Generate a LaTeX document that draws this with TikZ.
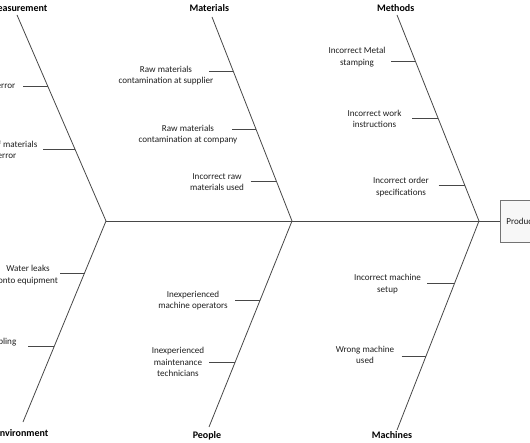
\documentclass[tikz,border=0pt]{standalone}
\usepackage{fontspec}
\setmainfont{Carlito}
\begin{document}
\begin{tikzpicture}[x=1pt,y=-1pt,
  bone/.style={draw=black!72, line width=0.8pt},
  twig/.style={draw=black!72, line width=0.8pt},
  cause/.style={font=\fontsize{9.1}{11.3}\selectfont, align=center, inner sep=0pt, text=black!88},
  cat/.style={font=\fontsize{10}{12}\selectfont\bfseries, inner sep=0pt, text=black},
  effectbox/.style={draw=black!55, fill=gray!6, line width=0.8pt, minimum height=42pt,
    anchor=west, inner xsep=6pt, font=\fontsize{9.1}{11.3}\selectfont, text=black!88}
]
\useasboundingbox (0,0) rectangle (530,443);
\clip (0,0) rectangle (530,443);

% effect box
\node[effectbox] (effect) at (500,221) {Product defects};

% main bone coordinates
\coordinate (meaT) at (17,15);   \coordinate (meaB) at (106,221);
\coordinate (matT) at (212,17);  \coordinate (matB) at (292,221);
\coordinate (metT) at (397,15);  \coordinate (metB) at (479,221);
\coordinate (envB) at (23,422);
\coordinate (peoB) at (209,427);
\coordinate (macB) at (397,430);

% spine and bones
\draw[bone] (meaB) -- (meaB -| effect.west);
\draw[bone] (meaT) -- (meaB);
\draw[bone] (matT) -- (matB);
\draw[bone] (metT) -- (metB);
\draw[bone] (meaB) -- (envB);
\draw[bone] (matB) -- (peoB);
\draw[bone] (metB) -- (macB);

% category titles
\node[cat, anchor=east] (tmea) at (47.5,8) {Measurement};
\node[cat] (tmat) at (209.3,8) {Materials};
\node[cat] (tmet) at (395.7,8) {Methods};
\node[cat, anchor=east] (tenv) at (48.5,433.5) {Environment};
\node[cat] (tpeo) at (207,435.5) {People};
\node[cat] (tmac) at (392,435.5) {Machines};

% Measurement causes
\node[cause, anchor=east] (c11) at (15.5,86.7) {Gauge error};
\coordinate (c11s) at (23,86.7); \coordinate (c11e) at (48.1,86.7);
\draw[twig] (c11s) -- (c11e);
\node[cause] (c12) at (7,150) {Test of materials\\error};
\coordinate (c12s) at (43,149); \coordinate (c12e) at (75,149);
\draw[twig] (c12s) -- (c12e);

% Materials causes
\node[cause] (c21) at (166,75.6) {Raw materials\\contamination at supplier};
\coordinate (c21s) at (209,71); \coordinate (c21e) at (233.3,71);
\draw[twig] (c21s) -- (c21e);
\node[cause] (c22) at (188,134.3) {Raw materials\\contamination at company};
\coordinate (c22s) at (232,129); \coordinate (c22e) at (256.1,129);
\draw[twig] (c22s) -- (c22e);
\node[cause] (c23) at (217,182) {Incorrect raw\\materials used};
\coordinate (c23s) at (250.5,181.7); \coordinate (c23e) at (276.9,181.7);
\draw[twig] (c23s) -- (c23e);

% Methods causes
\node[cause] (c31) at (357,57) {Incorrect Metal\\stamping};
\coordinate (c31s) at (391,61); \coordinate (c31e) at (415.4,61);
\draw[twig] (c31s) -- (c31e);
\node[cause] (c32) at (374.5,119) {Incorrect work\\instructions};
\coordinate (c32s) at (412,118); \coordinate (c32e) at (438.2,118);
\draw[twig] (c32s) -- (c32e);
\node[cause] (c33) at (401,187) {Incorrect order\\specifications};
\coordinate (c33s) at (438.5,185.7); \coordinate (c33e) at (465,185.7);
\draw[twig] (c33s) -- (c33e);

% Environment causes
\node[cause] (c41) at (28,275) {Water leaks\\onto equipment};
\coordinate (c41s) at (60,273.3); \coordinate (c41e) at (84.8,273.3);
\draw[twig] (c41s) -- (c41e);
\node[cause, anchor=east] (c42) at (16.5,342.5) {Incorrect sampling};
\coordinate (c42s) at (28,346.7); \coordinate (c42e) at (54.3,346.7);
\draw[twig] (c42s) -- (c42e);

% People causes
\node[cause] (c51) at (193,300.5) {Inexperienced\\machine operators};
\coordinate (c51s) at (235,300); \coordinate (c51e) at (259.9,300);
\draw[twig] (c51s) -- (c51e);
\node[cause] (c52) at (178,362) {Inexperienced\\maintenance\\technicians};
\coordinate (c52s) at (209,362.7); \coordinate (c52e) at (234.8,362.7);
\draw[twig] (c52s) -- (c52e);

% Machines causes
\node[cause] (c61) at (387.5,284.2) {Incorrect machine\\setup};
\coordinate (c61s) at (427.3,283.3); \coordinate (c61e) at (454.3,283.3);
\draw[twig] (c61s) -- (c61e);
\node[cause] (c62) at (365,355.2) {Wrong machine\\used};
\coordinate (c62s) at (401.7,356); \coordinate (c62e) at (425.9,356);
\draw[twig] (c62s) -- (c62e);
\end{tikzpicture}
\end{document}
